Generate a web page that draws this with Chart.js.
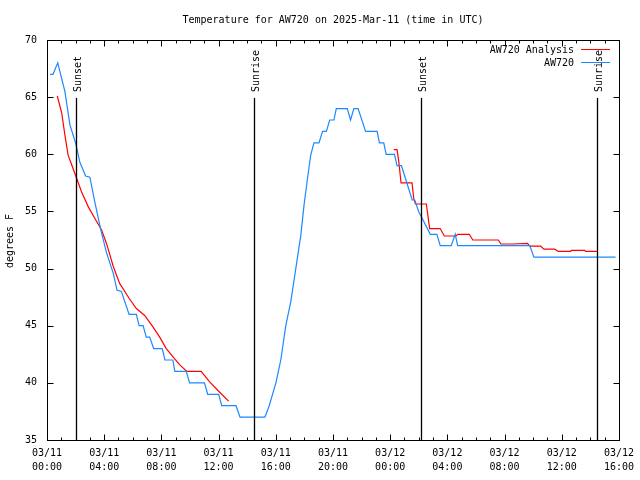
<!DOCTYPE html>
<html>
<head>
<meta charset="utf-8">
<title>Temperature for AW720</title>
<script src="https://cdn.jsdelivr.net/npm/chart.js@4/dist/chart.umd.min.js"></script>
<style>
    body { margin: 0; background: #fff; }
    canvas { display: block; }
</style>
</head>
<body>
<canvas id="tempChart" width="640" height="480"></canvas>
<script>
// hours since 03/11 00:00 UTC
const stationHours = [0.21, 0.42, 0.75, 1.25, 1.6, 2.02, 2.3, 2.7, 3.0, 3.35, 3.76, 4.16, 4.63, 4.9, 5.2,
    5.74, 6.25, 6.44, 6.72, 6.94, 7.18, 7.46, 8.06, 8.25, 8.8, 8.94, 9.74, 9.97, 11.01, 11.24, 12.01,
    12.22, 13.22, 13.5, 15.24, 15.54, 16.01, 16.35, 16.7, 17.05, 17.4, 17.75, 17.98, 18.22, 18.44,
    18.67, 19.02, 19.27, 19.54, 19.77, 20.07, 20.23, 21.0, 21.23, 21.46, 21.76, 22.28, 23.09, 23.25,
    23.55, 23.72, 24.3, 24.48, 24.79, 25.54, 25.72, 25.99, 26.81, 27.27, 27.5, 28.27, 28.55, 28.72,
    33.77, 34.05, 39.76];
const stationTemps = [67, 67, 68, 65.5, 62.6, 60.9, 59.3, 58.1, 58, 55.8, 53.4, 51.4, 49.6, 48.1, 48,
    46, 46, 45, 45, 44, 44, 43, 43, 42, 42, 41, 41, 40, 40, 39, 39,
    38, 38, 37, 37, 38, 40, 42, 45, 47.1, 50, 52.9, 55.6, 57.9, 59.9,
    61, 61, 62, 62, 63, 63, 64, 64, 63, 64, 64, 62, 62, 61,
    61, 60, 60, 59, 59, 56, 56, 55, 53, 53, 52, 52, 53, 52,
    52, 51, 51];

// analysis: two runs, split by a gap (null)
const analysisHours = [0.72, 1.03, 1.25, 1.48, 1.72, 2.07, 2.42, 2.89, 3.34, 3.81, 4.16, 4.63, 5.08,
    5.74, 6.25, 6.83, 7.41, 7.88, 8.34, 8.8, 9.27, 9.78, 10.78, 11.36, 12.06, 12.7,
    18.0,
    24.25, 24.48, 24.6, 24.76, 25.53, 25.65, 25.77, 26.53, 26.76, 27.5, 27.79, 28.59, 28.73, 29.53,
    29.78, 31.57, 31.74, 32.62, 33.6, 33.77, 34.52, 34.75, 35.51, 35.75, 36.63, 36.68, 37.6, 37.67, 38.47];
const analysisTemps = [65.1, 63.6, 61.7, 59.9, 59.1, 57.9, 56.7, 55.4, 54.4, 53.4, 52.2, 50.2, 48.7,
    47.4, 46.5, 45.9, 44.9, 44.0, 43.0, 42.3, 41.6, 41.0, 41.0, 40.1, 39.2, 38.4,
    null,
    60.4, 60.4, 59.4, 57.5, 57.5, 56.1, 55.65, 55.65, 53.5, 53.5, 52.85, 52.85, 53.0, 53.0,
    52.5, 52.5, 52.15, 52.15, 52.2, 51.97, 51.97, 51.7, 51.7, 51.5, 51.5, 51.6, 51.6, 51.5, 51.5];

const sunHours = [2.02, 14.45, 26.15, 38.49];
const sunLabels = ['Sunset', 'Sunrise', 'Sunset', 'Sunrise'];

const tickDates = ['03/11', '03/11', '03/11', '03/11', '03/11', '03/11', '03/12', '03/12', '03/12', '03/12', '03/12'];
const tickTimes = ['00:00', '04:00', '08:00', '12:00', '16:00', '20:00', '00:00', '04:00', '08:00', '12:00', '16:00'];
const yTicks = [35, 40, 45, 50, 55, 60, 65, 70];

const FONT_FAMILY = '"DejaVu Sans Mono", "Liberation Mono", monospace';
const FONT = '10px ' + FONT_FAMILY;

const toPoints = (xs, ys) => xs.map((h, i) => ({ x: h, y: ys[i] }));

// 画框、刻度、日出日落线、图例和标题
const gnuplotFrame = {
    id: 'gnuplotFrame',
    afterDraw(chart) {
        const ctx = chart.ctx;
        const a = chart.chartArea;
        const xs = chart.scales.x;
        const ys = chart.scales.y;
        const line = (x1, y1, x2, y2) => {
            ctx.beginPath();
            ctx.moveTo(x1, y1);
            ctx.lineTo(x2, y2);
            ctx.stroke();
        };

        ctx.save();
        ctx.strokeStyle = '#000';
        ctx.fillStyle = '#000';
        ctx.lineWidth = 1;

        // border
        const l = Math.round(a.left) + 0.5, r = Math.round(a.right) + 0.5;
        const t = Math.round(a.top) + 0.5, b = Math.round(a.bottom) + 0.5;
        ctx.strokeRect(l, t, r - l, b - t);

        // x ticks: minor every hour, major every 4 hours
        for (let h = xs.min; h <= xs.max; h++) {
            const px = Math.round(xs.getPixelForValue(h)) + 0.5;
            const len = h % 4 === 0 ? 6 : 3;
            line(px, b, px, b - len);
            line(px, t, px, t + len);
        }
        // y ticks
        yTicks.forEach(v => {
            const py = Math.round(ys.getPixelForValue(v)) + 0.5;
            line(l, py, l + 6, py);
            line(r, py, r - 6, py);
        });

        // sunrise / sunset markers
        ctx.font = FONT;
        sunHours.forEach((h, i) => {
            const px = Math.round(xs.getPixelForValue(h)) + 0.5;
            ctx.lineWidth = 1.3;
            line(px, 98, px, a.bottom);
            ctx.save();
            ctx.translate(px + 2, 92);
            ctx.rotate(-Math.PI / 2);
            ctx.textAlign = 'left';
            ctx.textBaseline = 'middle';
            ctx.fillText(sunLabels[i], 0, 0);
            ctx.restore();
        });

        // legend (inside, top right)
        ctx.lineWidth = 1;
        ctx.textAlign = 'right';
        ctx.textBaseline = 'middle';
        chart.data.datasets.forEach((ds, i) => {
            const y = 50 + i * 13;
            ctx.fillStyle = '#000';
            ctx.fillText(ds.label, 574, y);
            ctx.strokeStyle = ds.borderColor;
            line(581, y - 0.5, 610, y - 0.5);
        });

        // title
        ctx.fillStyle = '#000';
        ctx.textAlign = 'center';
        ctx.fillText('Temperature for AW720 on 2025-Mar-11 (time in UTC)', (a.left + a.right) / 2, 20);

        // y axis title
        ctx.save();
        ctx.translate(10, 241);
        ctx.rotate(-Math.PI / 2);
        ctx.textAlign = 'center';
        ctx.textBaseline = 'middle';
        ctx.fillText('degrees F', 0, 0);
        ctx.restore();

        ctx.restore();
    }
};

Chart.defaults.color = '#000';
Chart.defaults.font.family = FONT_FAMILY;
Chart.defaults.font.size = 10;

const chart = new Chart(document.getElementById('tempChart').getContext('2d'), {
    type: 'line',
    data: {
        datasets: [
            {
                label: 'AW720 Analysis',
                data: toPoints(analysisHours, analysisTemps),
                borderColor: '#ff0000',
                borderWidth: 1.2,
                pointRadius: 0,
                tension: 0,
                spanGaps: false,
                order: 1
            },
            {
                label: 'AW720',
                data: toPoints(stationHours, stationTemps),
                borderColor: '#1e88ff',
                borderWidth: 1.2,
                pointRadius: 0,
                tension: 0,
                order: 0
            }
        ]
    },
    options: {
        responsive: false,
        animation: false,
        layout: { padding: { top: 40, right: 19, left: 0, bottom: 0 } },
        plugins: {
            legend: { display: false },
            title: { display: false },
            tooltip: { enabled: false }
        },
        scales: {
            x: {
                type: 'linear',
                min: 0,
                max: 40,
                grid: { display: false, drawTicks: false },
                border: { display: false },
                ticks: {
                    stepSize: 4,
                    autoSkip: false,
                    maxRotation: 0,
                    padding: 6,
                    font: { size: 10, lineHeight: 1.4 },
                    callback: (value) => {
                        const i = Math.round(value / 4);
                        return [tickDates[i], tickTimes[i]];
                    }
                },
                afterFit: (scale) => { scale.height = 40; }
            },
            y: {
                min: 35,
                max: 70,
                grid: { display: false, drawTicks: false },
                border: { display: false },
                ticks: { stepSize: 5, padding: 10 },
                afterFit: (scale) => { scale.width = 47; }
            }
        }
    },
    plugins: [gnuplotFrame]
});
</script>
</body>
</html>
